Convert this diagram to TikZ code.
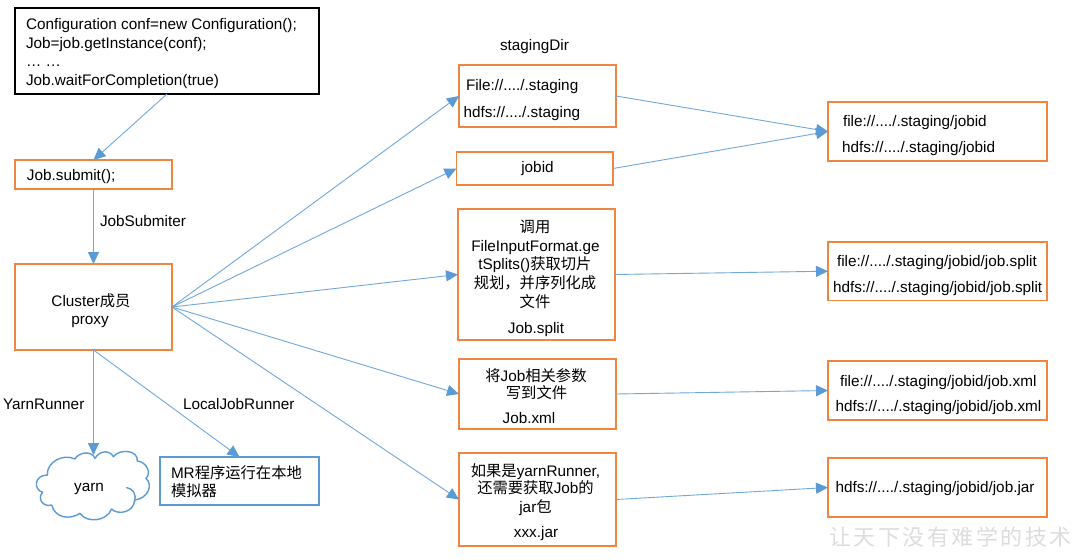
\documentclass[tikz,border=0pt]{standalone}
\usepackage{fontspec}
\setmainfont{Liberation Sans}
\newfontfamily\cjk{Noto Sans CJK SC}
\usetikzlibrary{arrows.meta}
\definecolor{orangeline}{HTML}{F0853F}
\definecolor{blueline}{HTML}{5B9BD5}
\definecolor{conn}{HTML}{6FA8DC}
\definecolor{wmgray}{HTML}{DDDDDD}
\tikzset{
  anybox/.style={rectangle,inner sep=0pt,outer sep=0pt,line width=1.8pt,line join=miter},
  obox/.style={anybox,draw=orangeline},
  kbox/.style={anybox,draw=black},
  bbox/.style={anybox,draw=blueline},
  txt/.style={inner sep=0pt,outer sep=0pt,font=\fontsize{15.3}{15.3}\selectfont,text=black},
  tl/.style={txt,anchor=base west},
  tc/.style={txt,anchor=base},
  conline/.style={draw=conn,line width=0.9pt,-{Triangle[length=12pt,width=11pt,color=blueline]}},
}
\begin{document}
\begin{tikzpicture}[x=1pt,y=-1pt]
\useasboundingbox[fill=white] (0,0) rectangle (1080,560);
% boxes
\node[kbox,minimum width=304pt,minimum height=86pt] (code) at (167,51) {};
\node[obox,minimum width=157pt,minimum height=29pt] (submit) at (93.5,174.5) {};
\node[obox,minimum width=157pt,minimum height=86pt] (cluster) at (93.5,307) {};
\node[inner sep=0pt,outer sep=0pt,minimum width=110pt,minimum height=64pt] (yarn) at (93.5,487) {};
\begin{scope}[shift={(30,445)},x=0.3333pt,y=-0.3333pt]
\draw[blueline,line width=1.4pt,line join=round]
  (52,90) .. controls (50,50) and (100,25) .. (135,42)
  .. controls (145,22) and (185,15) .. (195,40)
  .. controls (210,15) and (240,15) .. (250,35)
  .. controls (270,10) and (325,15) .. (322,48)
  .. controls (350,50) and (365,85) .. (348,100)
  .. controls (370,120) and (355,160) .. (314,165)
  .. controls (312,205) and (260,210) .. (245,192)
  .. controls (230,230) and (170,235) .. (150,205)
  .. controls (120,225) and (75,220) .. (65,180)
  .. controls (40,188) and (20,160) .. (38,142)
  .. controls (10,135) and (12,90) .. (52,90) -- cycle;
\draw[blueline,line width=1.4pt,line cap=round] (290,128) .. controls (310,130) and (320,150) .. (314,170);
\end{scope}
\node[bbox,minimum width=159pt,minimum height=48pt] (mr) at (239.5,481) {};
\node[obox,minimum width=157pt,minimum height=62pt] (staging) at (537.5,96) {};
\node[obox,minimum width=156.6pt,minimum height=33pt] (jobid) at (534.8,168.5) {};
\node[obox,minimum width=157pt,minimum height=131pt] (split) at (536.5,274.5) {};
\node[obox,minimum width=157pt,minimum height=70pt] (xml) at (537.5,394) {};
\node[obox,minimum width=157pt,minimum height=93pt] (jar) at (537.5,499.5) {};
\node[obox,minimum width=219pt,minimum height=59pt] (rstaging) at (937.5,131.5) {};
\node[obox,minimum width=218.6pt,minimum height=58.6pt] (rsplit) at (937.3,271.2) {};
\node[obox,minimum width=219pt,minimum height=59pt] (rxml) at (937.5,390.5) {};
\node[obox,minimum width=219pt,minimum height=59pt] (rjar) at (937.5,487.5) {};
% connectors
\draw[conline] (code.south) -- (submit.north);
\draw[conline] (submit.south) -- (cluster.north);
\draw[conline] (cluster.south) -- (yarn.north);
\draw[conline] (cluster.south) -- (mr.north);
\draw[conline] (cluster.east) -- (staging.west);
\draw[conline] (cluster.east) -- (jobid.west);
\draw[conline] (cluster.east) -- (split.west);
\draw[conline] (cluster.east) -- (xml.west);
\draw[conline] (cluster.east) -- (jar.west);
\draw[conline] (staging.east) -- (rstaging.west);
\draw[conline] (jobid.east) -- (rstaging.west);
\draw[conline] (split.east) -- (rsplit.west);
\draw[conline] (xml.east) -- (rxml.west);
\draw[conline] (jar.east) -- (rjar.west);
% texts
\node[tl] (t1) at (26,29) {Configuration conf=new Configuration();};
\node[tl] (t2) at (26,48) {Job=job.getInstance(conf);};
\node[tl] (t3) at (26,66.5) {… …};
\node[tl] (t4) at (26,85.5) {Job.waitForCompletion(true)};
\node[tl] (t5) at (27,180) {Job.submit();};
\node[tl] (t6) at (100,226) {JobSubmiter};
\node[tc] (t7) at (91,306) {Cluster{\cjk 成员}};
\node[tc] (t8) at (90,324) {proxy};
\node[tl] (t9) at (3,409) {YarnRunner};
\node[tl] (t10) at (183,409) {LocalJobRunner};
\node[tc] (t11) at (89,491) {yarn};
\node[tl] (t12) at (171,478) {MR{\cjk 程序运行在本地}};
\node[tl] (t13) at (171,496) {\cjk 模拟器};
\node[tl] (t14) at (500,50) {stagingDir};
\node[tl] (t15) at (466,90) {File://..../.staging};
\node[tl] (t16) at (463.5,117) {hdfs://..../.staging};
\node[tc] (t17) at (537.5,172) {jobid};
\node[tc] (t18) at (535,232) {\cjk 调用};
\node[tc] (t19) at (535.5,251) {FileInputFormat.ge};
\node[tc] (t20) at (535,269) {tSplits(){\cjk 获取切片}};
\node[tc] (t21) at (535,288) {\cjk 规划，并序列化成};
\node[tc] (t22) at (535,307) {\cjk 文件};
\node[tc] (t23) at (536,333) {Job.split};
\node[tc] (t24) at (536,381) {{\cjk 将}Job{\cjk 相关参数}};
\node[tc] (t25) at (536.5,398) {\cjk 写到文件};
\node[tc] (t26) at (529,423) {Job.xml};
\node[tc] (t27) at (535.5,476) {{\cjk 如果是}yarnRunner,};
\node[tc] (t28) at (535.5,493) {{\cjk 还需要获取}Job{\cjk 的}};
\node[tc] (t29) at (535.5,512) {jar{\cjk 包}};
\node[tc] (t30) at (536,537) {xxx.jar};
\node[tl] (t31) at (843,126) {file://..../.staging/jobid};
\node[tl] (t32) at (842,152) {hdfs://..../.staging/jobid};
\node[tl] (t33) at (837,266) {file://..../.staging/jobid/job.split};
\node[tl] (t34) at (833,292) {hdfs://..../.staging/jobid/job.split};
\node[tl] (t35) at (840,386) {file://..../.staging/jobid/job.xml};
\node[tl] (t36) at (835.5,411) {hdfs://..../.staging/jobid/job.xml};
\node[tl] (t37) at (835.5,492) {hdfs://..../.staging/jobid/job.jar};
\node[inner sep=0pt,anchor=base west,text=wmgray,font=\fontsize{22}{22}\selectfont\cjk] (wm) at (829,545)
  {让\hspace{2.5pt}天\hspace{2.5pt}下\hspace{2.5pt}没\hspace{2.5pt}有\hspace{2.5pt}难\hspace{2.5pt}学\hspace{2.5pt}的\hspace{2.5pt}技\hspace{2.5pt}术};
\end{tikzpicture}
\end{document}
